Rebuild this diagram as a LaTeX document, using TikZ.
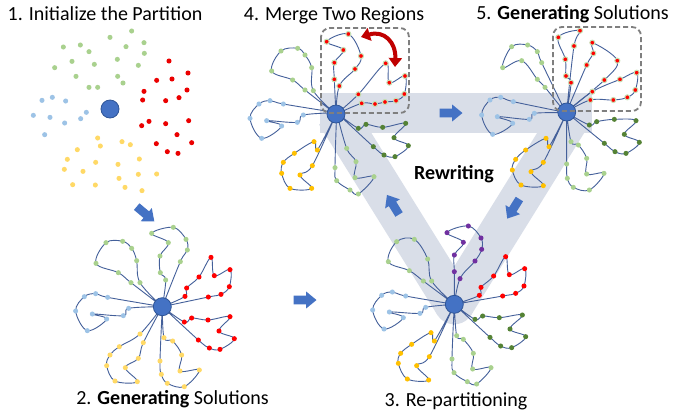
\documentclass[tikz,border=0pt]{standalone}
\usepackage{fontspec}
\setmainfont{Carlito}
\usetikzlibrary{arrows.meta}
\definecolor{band}{HTML}{D9DEE8}
\definecolor{arrowblue}{HTML}{4472C4}
\definecolor{depotfill}{HTML}{4472C4}
\definecolor{depotdraw}{HTML}{2F5597}
\definecolor{routec}{HTML}{44609A}
\definecolor{cgreen}{HTML}{A9D18E}
\definecolor{cdgreen}{HTML}{548235}
\definecolor{cred}{HTML}{FF0000}
\definecolor{cblue}{HTML}{9DC3E6}
\definecolor{cyellow}{HTML}{FFC000}
\definecolor{clyellow}{HTML}{FFD966}
\definecolor{cpurple}{HTML}{7030A0}
\definecolor{chalo}{HTML}{C5E0B4}
\definecolor{boxgrey}{HTML}{7F7F7F}
\definecolor{darkred}{HTML}{C00000}
\newcommand\rt[3]{%
  \def\rtlist{}%
  \foreach \x/\y in {#3}{\xdef\rtlist{\rtlist(\x,\y)}}%
  \edef\rtcmd{\noexpand\draw[rline] plot[smooth,tension=0.6] coordinates {(#2)\rtlist(#2)};}%
  \rtcmd
  \foreach \x/\y in {#3}{\fill[#1] (\x,\y) circle[radius=7.6];}%
}
\begin{document}
\begin{tikzpicture}[x=1bp,y=-1bp,
  rline/.style={draw=routec,line width=0.9bp},
  gdot/.style={fill=cgreen},
  dgdot/.style={fill=cdgreen},
  rdot/.style={fill=cred},
  rhdot/.style={fill=cred,draw=chalo,line width=1bp},
  bdot/.style={fill=cblue},
  ydot/.style={fill=cyellow},
  lydot/.style={fill=clyellow},
  pdot/.style={fill=cpurple},
  depot/.style={fill=depotfill,draw=depotdraw,line width=0.8bp},
  bandline/.style={draw=band,line width=40bp},
  dbox/.style={draw=boxgrey,line width=1.8bp,dash pattern=on 5bp off 3bp,rounded corners=9bp},
  title/.style={font=\fontsize{20bp}{24bp}\selectfont,inner sep=0pt,anchor=base,text=black},
  barrow/.pic={\fill[arrowblue] (-11.5,-4.3) -- (1,-4.3) -- (1,-8.6) -- (11.5,0) -- (1,8.6) -- (1,4.3) -- (-11.5,4.3) -- cycle;}
]
\useasboundingbox (0,0) rectangle (673,413);
\fill[white] (0,0) rectangle (673,413);

% depots
\coordinate (D1) at (110,109);
\coordinate (D2) at (162.3,306.7);
\coordinate (D3) at (454.3,304.3);
\coordinate (D4) at (336,114);
\coordinate (D5) at (566.7,112);
\coordinate (B1) at (320,113);
\coordinate (B2) at (592,113);
\coordinate (B3) at (573,113);

% rewriting band
\draw[bandline] (B1) -- (B2);
\draw[bandline] (D3) -- (D4);
\draw[bandline] (D3) -- (B3);
\fill[band] (D3) circle[radius=20];

% block arrows
\pic[rotate=-40] at (145.5,214) {barrow};
\pic at (305,300) {barrow};
\pic at (451,113) {barrow};
\pic[rotate=121.7] at (393,204.7) {barrow};
\pic[rotate=238] at (513.3,208.8) {barrow};

% ---------- stage 1
\begin{scope}[scale=0.33333]
\foreach \x/\y in {395/93, 330/112, 432/128, 190/141, 241/135, 267/155, 378/140, 433/160, 216/184, 283/193, 352/178, 415/196, 164/203, 228/229, 353/229, 369/249, 267/262, 293/262}
  \fill[gdot] (\x,\y) circle[radius=7.6];
\foreach \x/\y in {507/183, 564/219, 470/241, 516/237, 432/274, 561/270, 428/300, 537/293, 497/302, 447/364, 425/377, 497/371, 566/362, 531/404, 575/428, 469/431, 502/455, 534/460}
  \fill[fill=cred!92!black] (\x,\y) circle[radius=7.6];
\foreach \x/\y in {126/301, 157/292, 197/303, 259/337, 100/346, 150/352, 242/356, 194/369, 134/404}
  \fill[bdot] (\x,\y) circle[radius=7.6];
\foreach \x/\y in {293/414, 301/438, 366/425, 391/434, 232/449, 418/477, 202/478, 287/487, 354/493, 193/508, 249/514, 415/523, 470/522, 357/535, 218/554, 286/555, 375/562, 426/572}
  \fill[lydot] (\x,\y) circle[radius=7.6];
\end{scope}
\fill[depot] (D1) circle[radius=9];

% ---------- stage 2
\begin{scope}[shift={(0,200)},scale=0.33333]
\rt{gdot}{487,320}{393/248, 355/218, 288/190, 318/128, 368/124, 395/145, 410/182, 420/248}
\rt{gdot}{487,320}{497/240, 481/218, 480/168, 505/128, 455/100, 520/82, 558/118, 562/150, 541/185}
\rt{rdot}{487,320}{555/289, 560/264, 597/231, 633/172, 643/227, 690/209, 688/260, 663/283, 625/291}
\rt{rdot}{487,320}{553/366, 575/354, 624/360, 690/350, 657/393, 703/416, 660/448, 628/444, 595/420}
\rt{bdot}{487,320}{323/292, 287/281, 253/290, 227/333, 262/392, 320/357, 277/342, 370/347, 386/325}
\rt{lydot}{487,320}{430/428, 415/475, 376/503, 412/545, 345/543, 320/497, 330/465, 358/440, 420/402}
\rt{lydot}{487,320}{480/483, 484/523, 502/550, 553/560, 598/510, 540/513, 545/465, 518/423, 492/413}
\end{scope}
\fill[depot] (D2) circle[radius=9];

% ---------- stage 3
\begin{scope}[shift={(330,180)},scale=0.33333]
\rt{pdot}{373,373}{373/275, 373/225, 400/187, 351/158, 415/138, 453/174, 455/208, 435/243, 390/296}
\rt{gdot}{373,373}{305/303, 293/237, 253/178, 200/185, 175/245, 238/272, 280/303}
\rt{rdot}{373,373}{448/346, 453/322, 491/288, 527/230, 538/284, 584/266, 582/318, 557/340, 518/348}
\rt{bdot}{373,373}{227/348, 187/336, 155/346, 128/390, 162/447, 220/413, 178/396, 270/400, 287/382}
\rt{dgdot}{373,373}{435/418, 458/408, 508/413, 577/405, 540/447, 587/470, 545/503, 512/498, 480/472}
\rt{ydot}{373,373}{313/483, 303/458, 245/493, 212/520, 205/550, 232/597, 296/600, 260/557, 298/530}
\rt{gdot}{373,373}{366/537, 372/578, 412/605, 440/612, 483/563, 428/567, 430/520, 400/478, 380/467}
\end{scope}
\fill[depot] (D3) circle[radius=9];

% ---------- stage 4
\begin{scope}[shift={(250,0)},scale=0.33333]
\rt{rhdot}{258,343}{253/238, 253/188, 280/150, 230/125, 295/102, 333/168, 315/207, 268/258}
\rt{rhdot}{258,343}{325/283, 407/190, 418/248, 465/228, 463/282, 438/302, 405/306, 375/312, 335/310}
\rt{gdot}{258,343}{165/270, 128/240, 65/213, 93/153, 143/145, 165/165, 185/203, 190/272}
\end{scope}
\begin{scope}[shift={(240,80)},scale=0.33333]
\rt{bdot}{290,98}{130/72, 90/62, 57/72, 30/115, 65/175, 125/138, 80/122, 172/127, 190/105}
\rt{ydot}{290,98}{232/210, 222/185, 163/220, 130/247, 125/280, 150/325, 215/325, 180/285, 217/257}
\rt{dgdot}{290,98}{355/145, 378/133, 428/142, 497/130, 462/173, 505/197, 465/230, 432/225, 400/200}
\rt{gdot}{290,98}{285/263, 290/302, 330/330, 355/342, 402/290, 345/293, 348/245, 320/205}
\end{scope}
\fill[depot] (D4) circle[radius=9];

% ---------- stage 5
\begin{scope}[shift={(540,20)},scale=0.33333]
\rt{rhdot}{80,275}{93/188, 78/168, 76/118, 55/52, 120/32, 102/78}
\rt{rhdot}{80,275}{140/135, 160/100, 157/68, 232/122, 193/180}
\rt{rhdot}{80,275}{157/215, 240/178, 290/158, 286/210, 262/232, 220/240, 151/240}
\end{scope}
\begin{scope}[shift={(460,0)},scale=0.33333]
\rt{gdot}{320,343}{255/262, 232/238, 185/182, 128/203, 155/140, 203/135, 232/155, 245/188}
\end{scope}
\begin{scope}[shift={(470,90)},scale=0.33333]
\rt{bdot}{290,68}{130/35, 92/22, 60/30, 35/75, 68/133, 128/100, 82/80, 178/88, 193/70}
\rt{ydot}{290,68}{237/170, 228/145, 167/180, 137/208, 127/240, 153/285, 220/287, 183/245, 220/217}
\rt{dgdot}{290,68}{358/105, 380/95, 433/88, 498/92, 463/133, 508/157, 468/190, 435/185, 403/160}
\rt{gdot}{290,68}{290/222, 292/265, 310/292, 358/300, 402/250, 350/252, 350/205, 325/165, 303/155}
\end{scope}
\fill[depot] (D5) circle[radius=9];

% dashed boxes
\draw[dbox] (321,28) rectangle (409,113);
\draw[dbox] (553,27) rectangle (641,111);

% merge arrow
\draw[darkred,line width=4bp,{Triangle[length=9bp,width=13bp]}-{Triangle[length=9bp,width=13bp]}]
  (361,37) .. controls (384,30) and (396,42) .. (395,67);

% titles
\node[title] (t1) at (105,20.7) {1. Initialize the Partition};
\node[title] (t4) at (334,20.7) {4. Merge Two Regions};
\node[title] (t5) at (572.5,19.5) {5. \textbf{Generating} Solutions};
\node[title] (t2) at (172.5,404) {2. \textbf{Generating} Solutions};
\node[title] (t3) at (456,406) {3. Re-partitioning};
\node[title] (rw) at (454,179) {\textbf{Rewriting}};
\end{tikzpicture}
\end{document}
